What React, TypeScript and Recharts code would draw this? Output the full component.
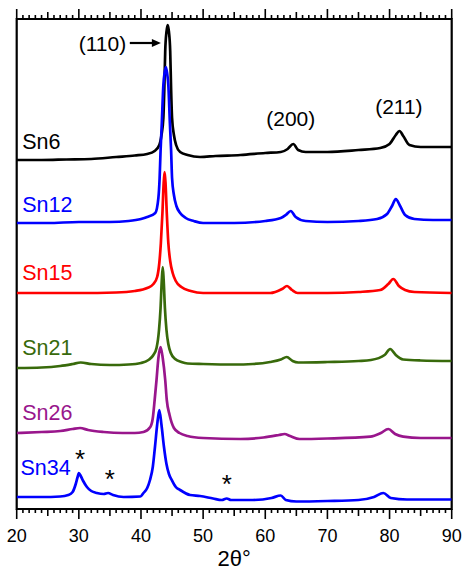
import {
  LineChart,
  Line,
  XAxis,
  YAxis,
  ReferenceArea,
  ReferenceDot,
  ReferenceLine,
} from "recharts";

// 2θ (deg) vs intensity (a.u.); each pattern is shifted by its offset
const sn6: [number, number][] = [
  [20, 0], [24, 0], [28, 0.5], [32, 1], [36, 3], [39, 4.5], [41, 6], [42.2, 9], [42.95, 15],
  [43.3, 25], [43.6, 42], [43.75, 70], [43.9, 109], [44.1, 128], [44.3, 135], [44.5, 128],
  [44.7, 109], [44.85, 70], [45.0, 42], [45.3, 25], [45.65, 15], [46.3, 8], [47.5, 5],
  [49.5, 3], [52, 4], [56, 5], [60, 7], [62.5, 8], [63.6, 11], [64.5, 16], [65.3, 10],
  [66.5, 8], [70, 8], [75, 10], [78.5, 12], [80, 16], [81, 25], [81.6, 29], [82.2, 24],
  [83.2, 15], [85, 13], [90, 13],
];
const sn12: [number, number][] = [
  [20, 0], [25, 0], [30, 1], [35, 1], [38, 2], [40, 4], [41, 6], [42.3, 10], [42.8, 25],
  [43.0, 45], [43.15, 72], [43.35, 100], [43.6, 138], [43.8, 150], [44.0, 156], [44.2, 150],
  [44.4, 138], [44.65, 100], [44.85, 72], [45.0, 45], [45.3, 28], [45.7, 17], [46.3, 10],
  [47.2, 5], [48.5, 2], [50, 0], [55, 0], [60, 2], [62.5, 5], [63.3, 8], [64.1, 12],
  [64.9, 6], [66.5, 2], [70, 1], [75, 2], [78, 4], [79.6, 9], [80.4, 17], [81.0, 24],
  [81.7, 17], [82.5, 8], [84, 4], [87, 3], [90, 3],
];
const sn15: [number, number][] = [
  [20, 0], [30, 0], [36, 0.5], [39, 2], [41, 5], [42, 9], [42.6, 16], [42.95, 30], [43.2, 50],
  [43.45, 80], [43.65, 110], [43.8, 121], [43.95, 110], [44.15, 80], [44.4, 50], [44.7, 32],
  [45.1, 20], [45.6, 12], [46.5, 6], [48, 2], [50, 0], [55, 0], [60.8, 0], [62.7, 4],
  [63.5, 7], [64.3, 3], [65.2, 0], [70, 0], [75, 1], [78.5, 3], [79.8, 9], [80.6, 14],
  [81.5, 7], [82.5, 3], [84, 1], [90, 0],
];
const sn21: [number, number][] = [
  [20, 0], [24, 0.5], [27, 2], [29, 4], [30.3, 5.5], [32, 4], [35, 3], [38, 3.5], [40, 5],
  [41.2, 8], [42.0, 13], [42.5, 20], [42.9, 38], [43.15, 60], [43.35, 88], [43.5, 101],
  [43.65, 88], [43.85, 60], [44.1, 38], [44.4, 24], [44.8, 15], [45.5, 9], [46.5, 6],
  [47.5, 4.5], [50, 4], [55, 3.5], [58, 4], [60.8, 6], [62.5, 8.5], [63.45, 11], [64.4, 7],
  [65.3, 5.5], [70, 6], [75, 7], [77, 8], [79.2, 13], [80.1, 19], [81, 13], [82.2, 8.5],
  [85, 7.5], [90, 7],
];
const sn26: [number, number][] = [
  [20, 0], [24, 1], [27, 2], [29, 4], [30.2, 5], [31.5, 3], [34, 1], [37, 0], [39, 0],
  [40.4, 1], [41.5, 6], [41.9, 15], [42.2, 33], [42.5, 53], [42.8, 75], [43.15, 86],
  [43.5, 75], [43.9, 53], [44.15, 33], [44.6, 18], [45.3, 5], [46.2, 0], [47.5, -3],
  [50, -5], [56, -6], [59.7, -4.5], [62.2, -2], [63.1, -1], [64, -3], [65.5, -6], [70, -5.5],
  [76.9, -3.7], [78.6, 0], [79.8, 4], [80.9, -1], [82.2, -3.7], [85, -5], [90, -5],
];
const sn34: [number, number][] = [
  [20, 0], [24, 0], [27, 0.5], [28.3, 2], [29.0, 5], [29.5, 13], [29.8, 20], [30.0, 24],
  [30.3, 21], [30.7, 16], [31.3, 10], [32, 6], [32.9, 4], [34, 3], [34.7, 4], [35.5, 2],
  [37.2, 0], [39.9, 0.5], [40.4, 4], [41.0, 9], [41.45, 17], [41.9, 30], [42.25, 50],
  [42.6, 72], [42.95, 87], [43.3, 72], [43.7, 50], [44.1, 33], [44.5, 23], [44.95, 17],
  [45.6, 10], [46.3, 7], [47.9, 2], [49.5, 1], [51.6, -1.5], [53.0, -3], [53.8, -1.5],
  [54.5, -3], [58, -3], [61, -1], [62.5, 1.5], [63.3, -3], [65, -4.5], [70, -4], [75, -3],
  [77.5, 0], [79.0, 4], [80.2, -1], [82.8, -2.5], [86, -2.5], [90, -2.5],
];

const sampleNames = ["Sn6", "Sn12", "Sn15", "Sn21", "Sn26", "Sn34"];
const patterns = [sn6, sn12, sn15, sn21, sn26, sn34];
const offsets = [349, 286, 216, 141, 76, 12];
const colors = ["#000000", "#0000ff", "#ff0000", "#386a0b", "#99168c", "#0000ff"];

// label anchors (2θ, a.u. baseline)
const nameAnchors: [number, number][] = [
  [20.9, 360], [20.9, 297], [20.9, 229], [20.9, 154], [20.9, 89], [20.6, 34],
];
const peakLabels: { text: string; at: [number, number] }[] = [
  { text: "(110)", at: [33.8, 458] },
  { text: "(200)", at: [64.1, 383] },
  { text: "(211)", at: [81.5, 395] },
];
const impurityMarks: [number, number][] = [
  [30.2, 41], [35.0, 21], [53.8, 16],
];

const majorTicks = [20, 30, 40, 50, 60, 70, 80, 90];
const allTicks = Array.from({ length: 71 }, (_, i) => 20 + i);

const FONT = "'Liberation Sans', Arial, sans-serif";
const W = 463;
const H = 571;
const MARGIN = { top: 19, right: 11.3, bottom: 0, left: 16.7 };
const AXIS_H = 62;
const PLOT_H = H - MARGIN.top - AXIS_H;

// ticks point outward on both the bottom and the top frame edge
function FrameTick({ x, y, payload }: any) {
  const v = payload.value;
  const len = v % 10 === 0 ? 10 : v % 5 === 0 ? 7 : 4;
  const topY = y - PLOT_H;
  return (
    <g>
      <line x1={x} x2={x} y1={y} y2={y + len} stroke="#000" strokeWidth={1.6} />
      <line x1={x} x2={x} y1={topY} y2={topY - len} stroke="#000" strokeWidth={1.6} />
      {majorTicks.includes(v) && (
        <text x={x} y={y + 33} textAnchor="middle" fontSize={18} fill="#000" fontFamily={FONT}>
          {v}
        </text>
      )}
    </g>
  );
}

export default function App() {
  const series = patterns.map((p, i) => ({
    name: sampleNames[i],
    color: colors[i],
    data: p.map(([x, y]) => ({ x, y: y + offsets[i] })),
  }));

  return (
    <div style={{ position: "absolute", left: 0, top: 0, background: "#fff", fontFamily: FONT }}>
      <LineChart width={W} height={H} margin={MARGIN}>
        <XAxis
          dataKey="x"
          type="number"
          domain={[20, 90]}
          ticks={allTicks}
          interval={0}
          tickSize={0}
          tickMargin={0}
          axisLine={false}
          tickLine={false}
          height={AXIS_H}
          tick={(p: any) => <FrameTick {...p} />}
          allowDataOverflow
          label={{ value: "2θ°", position: "insideBottom", offset: 5, fontSize: 22, fill: "#000" }}
        />
        <YAxis type="number" domain={[0, 490]} hide allowDataOverflow />
        {series.map((s) => (
          <Line
            key={s.name}
            data={s.data}
            dataKey="y"
            type="monotone"
            stroke={s.color}
            strokeWidth={2.7}
            dot={false}
            activeDot={false}
            isAnimationActive={false}
          />
        ))}
        <ReferenceArea
          x1={20}
          x2={90}
          y1={0}
          y2={490}
          fill="none"
          stroke="#000"
          strokeWidth={2.2}
          ifOverflow="visible"
        />
        {sampleNames.map((n, i) => (
          <ReferenceDot
            key={n}
            x={nameAnchors[i][0]}
            y={nameAnchors[i][1]}
            r={0}
            ifOverflow="visible"
            shape={(p: any) => (
              <text x={p.cx} y={p.cy} fontSize={21.5} fill={colors[i]} fontFamily={FONT}>
                {n}
              </text>
            )}
          />
        ))}
        {peakLabels.map((l) => (
          <ReferenceDot
            key={l.text}
            x={l.at[0]}
            y={l.at[1]}
            r={0}
            ifOverflow="visible"
            shape={(p: any) => (
              <text x={p.cx} y={p.cy} fontSize={21} fill="#000" textAnchor="middle" fontFamily={FONT}>
                {l.text}
              </text>
            )}
          />
        ))}
        <ReferenceLine
          segment={[
            { x: 38.2, y: 466 },
            { x: 42.2, y: 466 },
          ]}
          stroke="#000"
          strokeWidth={2.2}
          ifOverflow="visible"
        />
        <ReferenceDot
          x={43.2}
          y={466}
          r={0}
          ifOverflow="visible"
          shape={(p: any) => (
            <polygon
              points={`${p.cx},${p.cy} ${p.cx - 9},${p.cy - 4} ${p.cx - 9},${p.cy + 4}`}
              fill="#000"
            />
          )}
        />
        {impurityMarks.map((m, i) => (
          <ReferenceDot
            key={i}
            x={m[0]}
            y={m[1]}
            r={0}
            ifOverflow="visible"
            shape={(p: any) => (
              <text x={p.cx} y={p.cy} fontSize={26} fill="#000" textAnchor="middle" fontFamily={FONT}>
                *
              </text>
            )}
          />
        ))}
      </LineChart>
    </div>
  );
}
